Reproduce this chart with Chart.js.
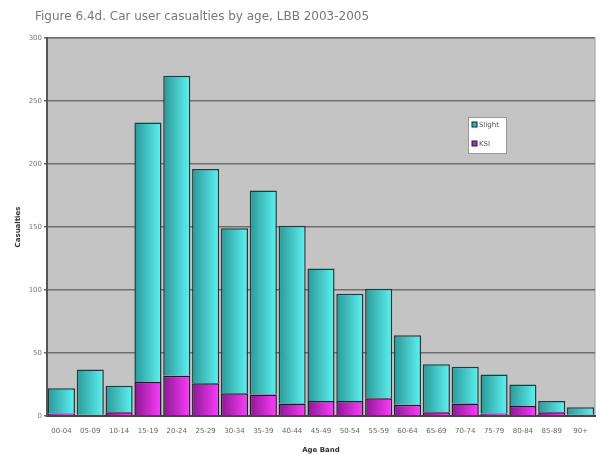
<!DOCTYPE html>
<html>
<head>
<meta charset="utf-8">
<script src="https://cdn.jsdelivr.net/npm/chart.js@4/dist/chart.umd.min.js"></script>
<style>
  body { margin: 0; background: #fff; }
  #wrap { width: 601px; height: 454px; }
</style>
</head>
<body>
<div id="wrap"><canvas id="chart" width="601" height="454"></canvas></div>
<script>
const ageBands = ['00-04','05-09','10-14','15-19','20-24','25-29','30-34','35-39','40-44','45-49',
                  '50-54','55-59','60-64','65-69','70-74','75-79','80-84','85-89','90+'];
const ksi    = [2, 1, 3, 27, 32, 26, 18, 17, 10, 12, 12, 14, 9, 3, 10, 2, 8, 3, 1];
const slight = [20, 36, 21, 206, 238, 170, 131, 162, 141, 105, 85, 87, 55, 38, 29, 31, 17, 9, 6];
const yTicks = [0, 50, 100, 150, 200, 250, 300];

const BAR_PCT = 0.94;

function barGradient(context, dark, light) {
    const chart = context.chart;
    const area = chart.chartArea;
    if (!area) return light;
    const xs = chart.scales.x;
    const cx = xs.getPixelForValue(context.dataIndex);
    const w = (xs.width / ageBands.length) * BAR_PCT;
    const g = chart.ctx.createLinearGradient(cx - w / 2, 0, cx + w / 2, 0);
    g.addColorStop(0, dark);
    g.addColorStop(1, light);
    return g;
}

// grey plot area, title and the little legend box
const decor = {
    id: 'decor',
    beforeDraw(chart) {
        const { ctx, chartArea: a } = chart;
        ctx.save();
        ctx.fillStyle = '#c4c4c4';
        ctx.fillRect(a.left, a.top, a.right - a.left, a.bottom - a.top);
        ctx.strokeStyle = '#9a9a9a';
        ctx.lineWidth = 1;
        ctx.strokeRect(a.left, a.top, a.right - a.left, a.bottom - a.top);
        ctx.fillStyle = '#777';
        ctx.font = '12px "DejaVu Sans", sans-serif';
        ctx.textBaseline = 'middle';
        ctx.fillText('Figure 6.4d. Car user casualties by age, LBB 2003-2005', 35, 17);
        ctx.restore();
    },
    afterDraw(chart) {
        const ctx = chart.ctx;
        ctx.save();
        ctx.fillStyle = '#fff';
        ctx.fillRect(468, 117, 38, 36);
        ctx.strokeStyle = '#999';
        ctx.strokeRect(468.5, 117.5, 38, 36);
        ctx.fillStyle = '#30b8b8';
        ctx.fillRect(472, 122, 5, 5);
        ctx.strokeStyle = '#123';
        ctx.strokeRect(472, 122, 5, 5);
        ctx.fillStyle = '#c020c0';
        ctx.fillRect(472, 141, 5, 5);
        ctx.strokeRect(472, 141, 5, 5);
        ctx.fillStyle = '#555';
        ctx.font = '7px "DejaVu Sans", sans-serif';
        ctx.textBaseline = 'middle';
        ctx.fillText('Slight', 479, 125);
        ctx.fillText('KSI', 479, 144);
        ctx.restore();
    }
};

new Chart(document.getElementById('chart'), {
    type: 'bar',
    data: {
        labels: ageBands,
        datasets: [
            {
                label: 'KSI',
                data: ksi,
                backgroundColor: c => barGradient(c, '#8a1890', '#ff3cff'),
                borderColor: '#2a1030',
                borderWidth: 1.5,
                categoryPercentage: 1,
                barPercentage: BAR_PCT
            },
            {
                label: 'Slight',
                data: slight,
                backgroundColor: c => barGradient(c, '#2a9898', '#5ef2f2'),
                borderColor: '#1e3c40',
                borderWidth: 1.5,
                categoryPercentage: 1,
                barPercentage: BAR_PCT
            }
        ]
    },
    options: {
        responsive: false,
        animation: false,
        layout: { padding: { top: 38, right: 6, left: 0, bottom: 0 } },
        plugins: {
            legend: { display: false },
            tooltip: { enabled: false }
        },
        scales: {
            x: {
                stacked: true,
                grid: { display: false },
                border: { color: '#444', width: 2 },
                ticks: { color: '#666', font: { size: 7, family: 'DejaVu Sans' }, maxRotation: 0, autoSkip: false },
                title: { display: true, text: 'Age Band', color: '#333', font: { size: 7, weight: 'bold', family: 'DejaVu Sans' }, padding: { top: 4, bottom: 0 } },
                afterFit(axis) { axis.height = 38; }
            },
            y: {
                stacked: true,
                min: 0,
                max: 300,
                afterBuildTicks(axis) { axis.ticks = yTicks.map(v => ({ value: v })); },
                grid: { color: '#6e6e6e', lineWidth: 1.5, drawTicks: true, tickLength: 3, tickColor: '#666' },
                border: { color: '#555', width: 2 },
                ticks: { color: '#777', font: { size: 7, family: 'DejaVu Sans' }, padding: 2 },
                title: { display: true, text: 'Casualties', color: '#333', font: { size: 7, weight: 'bold', family: 'DejaVu Sans' }, padding: { top: 14, bottom: 0 } },
                afterFit(axis) { axis.width = 47; }
            }
        }
    },
    plugins: [decor]
});
</script>
</body>
</html>
